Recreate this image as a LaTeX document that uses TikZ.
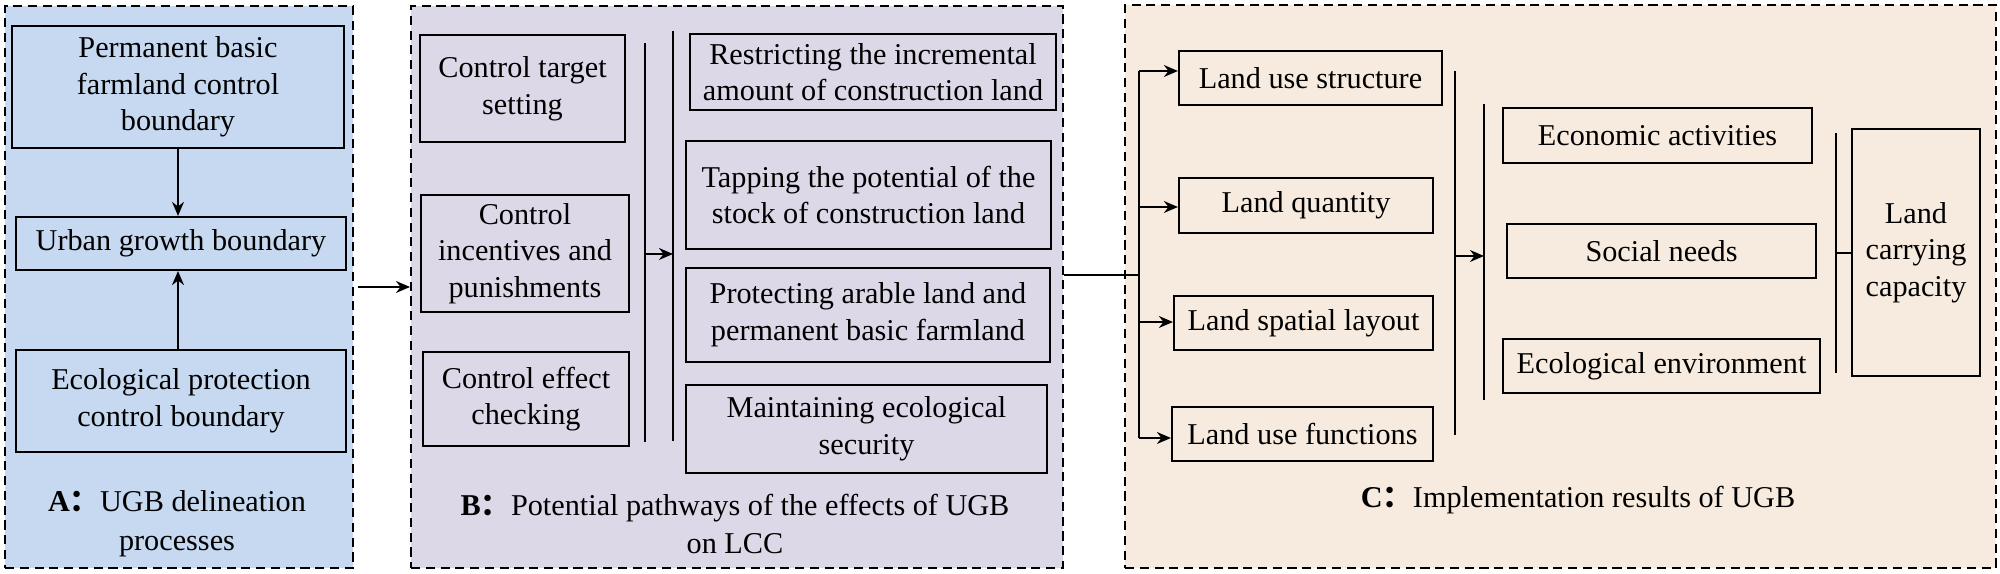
\documentclass[tikz,border=0pt]{standalone}
\usepackage{fontspec}
\setmainfont{Liberation Serif}
\newfontfamily\cjk{Noto Sans CJK SC}
\usetikzlibrary{fit,arrows.meta}
\definecolor{pA}{RGB}{198,217,240}
\definecolor{pB}{RGB}{220,216,232}
\definecolor{pC}{RGB}{246,235,222}
\newcommand{\fwcolon}{{\cjk ：}}
\newcommand{\mybox}[6]{%
  \pgfmathsetmacro{\bw}{(#4-#2)*0.01}%
  \pgfmathsetmacro{\bh}{(#5-#3)*0.01}%
  \node[box, minimum width=\bw cm, minimum height=\bh cm] (#1) at ({(#2+#4)/2},{(#3+#5)/2}) {#6};}
\begin{document}
\begin{tikzpicture}[x=0.01cm,y=-0.01cm,
  panel/.style={draw, dash pattern=on 2.6pt off 1.6pt, line width=0.55pt, inner sep=0pt},
  box/.style={draw, line width=0.6pt, inner sep=0pt, align=center, font=\rmfamily\fontsize{8.6}{10.4}\selectfont},
  conn/.style={line width=0.45pt},
  arr/.style={conn, -{Stealth[length=4pt,width=3.4pt]}},
  lbl/.style={align=center, font=\rmfamily\fontsize{8.6}{11}\selectfont}]
\useasboundingbox (0,0) rectangle (2000,574);
% panels
\node[panel, fill=pA, fit={(5,6)(353,568)}] (A) {};
\node[panel, fill=pB, fit={(411,6)(1063,568)}] (B) {};
\node[panel, fill=pC, fit={(1125,5)(1996,568)}] (C) {};
% panel A
\mybox{pbf}{12}{26}{344}{148}{Permanent basic\\farmland control\\boundary}
\mybox{ugb}{16}{217}{346}{270}{Urban growth boundary}
\mybox{eco}{16}{350}{346}{452}{Ecological protection\\control boundary}
\draw[arr] (pbf.south) -- (pbf.south |- ugb.north);
\draw[arr] (pbf.south |- eco.north) -- (pbf.south |- ugb.south);
\node[lbl] (labA) at (177,524) {\textbf{A\fwcolon}UGB delineation\\processes};
% A -> B
\draw[arr] ([xshift=0.04cm]A.east) -- (B.west);
% panel B
\mybox{cts}{420}{35}{625}{142}{Control target\\setting}
\mybox{cip}{421}{195}{629}{312}{Control\\incentives and\\punishments}
\mybox{cec}{423}{352}{629}{446}{Control effect\\checking}
\coordinate (v1t) at (645,43);
\coordinate (v1b) at (645,442);
\coordinate (v1m) at (645,254);
\coordinate (v2t) at (673,31);
\coordinate (v2b) at (673,441);
\draw[conn] (v1t) -- (v1b);
\draw[conn] (v2t) -- (v2b);
\draw[arr] (v1m) -- (v1m -| v2t);
\mybox{ric}{690}{34}{1056}{110}{Restricting the incremental\\amount of construction land}
\mybox{tpc}{686}{141}{1051}{249}{Tapping the potential of the\\stock of construction land}
\mybox{pal}{686}{268}{1050}{362}{Protecting arable land and\\permanent basic farmland}
\mybox{mes}{686}{385}{1047}{473}{Maintaining ecological\\security}
\node[lbl] (labB) at (735,524) {\textbf{B\fwcolon}Potential pathways of the effects of UGB\\on LCC};
% B -> C
\coordinate (t0) at (1139,275);
\coordinate (tt) at (1139,71);
\coordinate (tb) at (1139,438);
\draw[conn] (B.east |- t0) -- (t0);
\draw[conn] (tt) -- (tb);
\mybox{lus}{1179}{51}{1442}{105}{Land use structure}
\mybox{lq}{1179}{178}{1433}{233}{Land quantity}
\mybox{lsl}{1174}{296}{1433}{350}{Land spatial layout}
\mybox{luf}{1172}{407}{1433}{461}{Land use functions}
\coordinate (j1) at (1139,71);
\coordinate (j2) at (1139,207);
\coordinate (j3) at (1139,322);
\coordinate (j4) at (1139,438);
\draw[arr] (j1) -- (j1 -| lus.west);
\draw[arr] (j2) -- (j2 -| lq.west);
\draw[arr] (j3) -- (j3 -| lsl.west);
\draw[arr] (j4) -- (j4 -| luf.west);
\coordinate (v3t) at (1455,71);
\coordinate (v3b) at (1455,435);
\coordinate (v3m) at (1455,256);
\coordinate (v4t) at (1484,104);
\coordinate (v4b) at (1484,400);
\draw[conn] (v3t) -- (v3b);
\draw[conn] (v4t) -- (v4b);
\draw[arr] (v3m) -- (v3m -| v4t);
\mybox{ea}{1503}{108}{1812}{163}{Economic activities}
\mybox{sn}{1507}{224}{1816}{278}{Social needs}
\mybox{ee}{1503}{339}{1820}{393}{Ecological environment}
\coordinate (v5t) at (1836,133);
\coordinate (v5b) at (1836,373);
\coordinate (v5m) at (1836,253);
\draw[conn] (v5t) -- (v5b);
\mybox{lcc}{1852}{129}{1980}{376}{Land\\carrying\\capacity}
\draw[conn] (v5m) -- (v5m -| lcc.west);
\node[lbl] (labC) at (1578,500) {\textbf{C\fwcolon}Implementation results of UGB};
\end{tikzpicture}
\end{document}
